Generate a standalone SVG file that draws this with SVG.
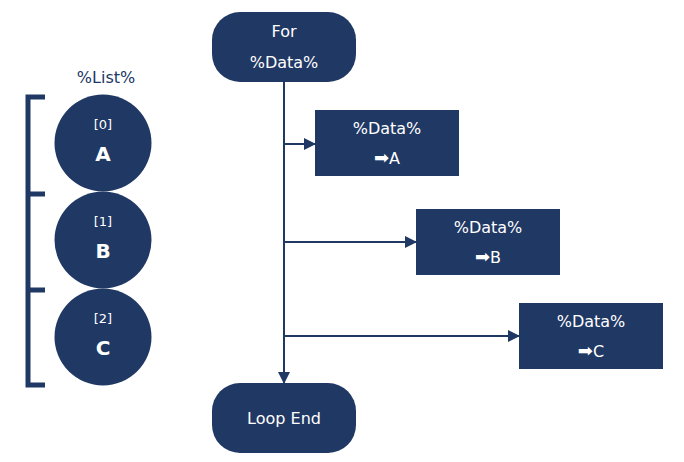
<svg xmlns="http://www.w3.org/2000/svg" width="684" height="462" viewBox="0 0 684 462">
<style>
.n{fill:#203864}
.t{fill:#fff;font-family:"DejaVu Sans","Liberation Sans",sans-serif;font-size:16px;text-anchor:middle}
.s{font-size:13px}
.b{font-size:20px;font-weight:bold}
.c{stroke:#203864;stroke-width:2;fill:none}
.ar{font-size:18px}
</style>
<defs>
<marker id="ah" markerWidth="12" markerHeight="12" refX="11" refY="6" orient="auto" markerUnits="userSpaceOnUse">
<path d="M0,0 L12,6 L0,12 Z" fill="#203864"/>
</marker>
</defs>
<rect width="684" height="462" fill="#fff"/>
<g id="list">
<text x="106" y="83" class="t" style="fill:#203864">%List%</text>
<path d="M45,97 H28 V385 H45 M28,194 H45 M28,290 H45" stroke="#203864" stroke-width="5" fill="none"/>
</g>
<g id="item0"><circle cx="103" cy="143" r="48.5" class="n"/><text x="103" y="129" class="t s">[0]</text><text x="103" y="161" class="t b">A</text></g>
<g id="item1"><circle cx="103" cy="240" r="48.5" class="n"/><text x="103" y="226" class="t s">[1]</text><text x="103" y="258" class="t b">B</text></g>
<g id="item2"><circle cx="103" cy="337" r="48.5" class="n"/><text x="103" y="323" class="t s">[2]</text><text x="103" y="355" class="t b">C</text></g>
<g id="connectors">
<line x1="284" y1="82" x2="284" y2="383" class="c" marker-end="url(#ah)"/>
<line x1="284" y1="144" x2="315" y2="144" class="c" marker-end="url(#ah)"/>
<line x1="284" y1="242" x2="416" y2="242" class="c" marker-end="url(#ah)"/>
<line x1="284" y1="336" x2="519" y2="336" class="c" marker-end="url(#ah)"/>
</g>
<g id="for"><rect x="212" y="12" width="144" height="70" rx="28" class="n"/><text x="284" y="37" class="t">For</text><text x="284" y="68" class="t">%Data%</text></g>
<g id="boxA"><rect x="315" y="110" width="144" height="66" class="n"/><text x="387" y="134" class="t">%Data%</text><text x="387" y="164" class="t"><tspan class="ar">➡</tspan>A</text></g>
<g id="boxB"><rect x="416" y="209" width="144" height="66" class="n"/><text x="488" y="233" class="t">%Data%</text><text x="488" y="263" class="t"><tspan class="ar">➡</tspan>B</text></g>
<g id="boxC"><rect x="519" y="303" width="144" height="66" class="n"/><text x="591" y="327" class="t">%Data%</text><text x="591" y="357" class="t"><tspan class="ar">➡</tspan>C</text></g>
<g id="end"><rect x="212" y="383" width="144" height="70" rx="28" class="n"/><text x="284" y="424" class="t">Loop End</text></g>
</svg>
